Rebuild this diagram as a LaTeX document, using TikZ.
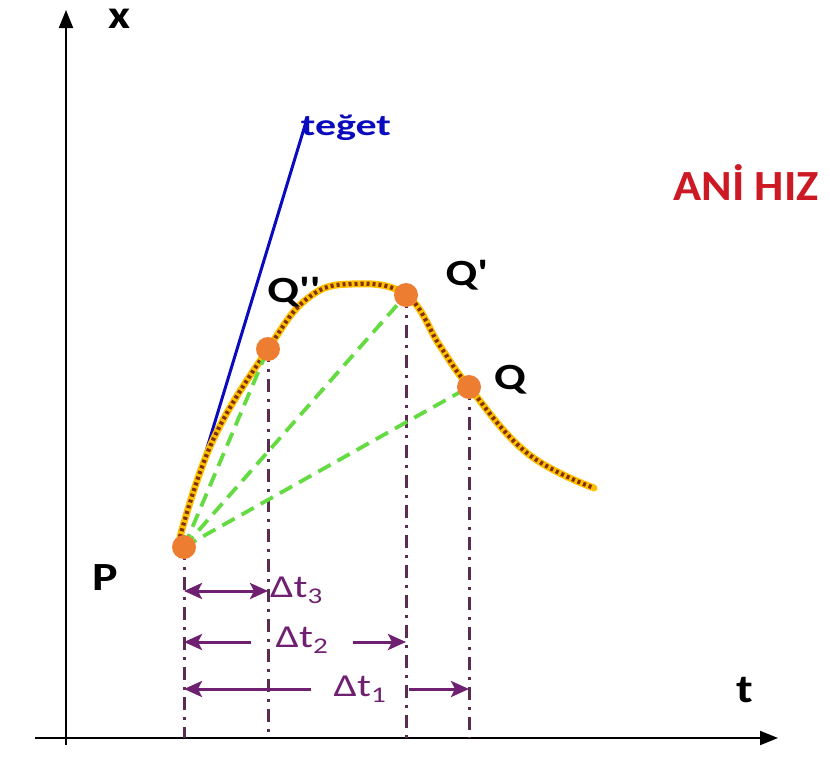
\documentclass[tikz,border=0pt]{standalone}
\usepackage{fontspec}
\setmainfont{Carlito}
\usetikzlibrary{arrows.meta}
\definecolor{dotorange}{RGB}{237,125,49}
\definecolor{curveyellow}{RGB}{255,192,0}
\definecolor{curvebrown}{RGB}{130,50,10}
\definecolor{chordgreen}{RGB}{100,220,65}
\definecolor{spanpurple}{RGB}{112,32,112}
\definecolor{dropgray}{RGB}{90,45,80}
\definecolor{tangentblue}{RGB}{10,10,190}
\definecolor{titlered}{RGB}{205,25,35}
\newcommand{\widetext}[2]{\scalebox{#1}[1]{#2}}

\begin{document}
\begin{tikzpicture}[x=1pt, y=-1pt,
    dot/.style={circle, fill=dotorange, inner sep=0pt, minimum size=24pt},
    lbl/.style={font=\fontsize{37}{37}\selectfont\bfseries},
    axlbl/.style={font=\fontsize{40}{40}\selectfont\bfseries},
    span/.style={text=spanpurple, font=\fontsize{32}{32}\selectfont},
    axis/.style={line width=2pt, -{Triangle[length=18pt, width=14pt]}},
    chord/.style={color=chordgreen, line width=3.8pt, dash pattern=on 14pt off 8pt},
    drop/.style={color=dropgray, line width=3pt, dash pattern=on 13pt off 7pt on 3pt off 7pt},
    gap/.style={color=spanpurple, line width=3pt, -{Stealth[length=18pt, width=16pt, inset=4pt]}},
    gapboth/.style={gap, {Stealth[length=18pt, width=16pt, inset=4pt]}-{Stealth[length=18pt, width=16pt, inset=4pt]}}
]
\useasboundingbox (0,0) rectangle (830,774);

% axes
\coordinate (ys) at (66,745);
\coordinate (ye) at (66,10);
\coordinate (xs) at (35,738);
\coordinate (xe) at (778,738);
\draw[axis] (ys) -- (ye);
\draw[axis] (xs) -- (xe);
\node[axlbl] (xlab) at (120,19) {\widetext{1.2}{x}};
\node[axlbl] (tlab) at (745,690) {\widetext{1.2}{t}};

% points on the curve
\coordinate (P) at (184,547);
\coordinate (Qb) at (268,349);
\coordinate (Qa) at (406,295);
\coordinate (Q) at (469,387);

% drop lines
\draw[drop] (P) -- (P |- xs);
\draw[drop] (Qb) -- (Qb |- xs);
\draw[drop] (Qa) -- (Qa |- xs);
\draw[drop] (Q) -- (Q |- xs);

% tangent
\coordinate (tgA) at (180,537);
\coordinate (tgB) at (306,122);
\draw[tangentblue, line width=3pt] (tgA) -- (tgB);
\node[text=tangentblue, font=\fontsize{30}{30}\selectfont\bfseries] (teget) at (346,128) {\widetext{1.4}{teğet}};

% the x(t) curve
\draw[curveyellow, line width=7pt, line cap=round] plot[smooth, tension=0.7] coordinates
  {(180,537) (213,440) (268,349) (308,298) (352,284) (406,295) (440,346) (469,387)
   (527,453) (594,488)};
\draw[curvebrown, line width=4.2pt, dash pattern=on 3pt off 3pt] plot[smooth, tension=0.7] coordinates
  {(180,537) (213,440) (268,349) (308,298) (352,284) (406,295) (440,346) (469,387)
   (527,453) (594,488)};

% chords
\draw[chord] (P) -- (Qb);
\draw[chord] (P) -- (Qa);
\draw[chord] (P) -- (Q);

% dots
\node[dot] (dP) at (P) {};
\node[dot] (dQb) at (Qb) {};
\node[dot] (dQa) at (Qa) {};
\node[dot] (dQ) at (Q) {};

% labels
\node[axlbl] (Plab) at (105,578) {\widetext{1.2}{P}};
\node[lbl] (Qblab) at (294,292) {\widetext{1.25}{Q\textquotesingle\textquotesingle}};
\node[lbl] (Qalab) at (467,275) {\widetext{1.25}{Q\textquotesingle}};
\node[lbl] (Qlab) at (510,380) {\widetext{1.25}{Q}};
\node[text=titlered, font=\fontsize{43}{43}\selectfont\bfseries] (title) at (746,183) {\widetext{1.08}{ANİ HIZ}};

% time spans
\node[span, anchor=west, inner sep=0pt] (d3) at (270,590) {\widetext{1.3}{Δt\textsubscript{3}}};
\draw[gapboth] (P |- 0,591) -- (Qb |- 0,591);
\node[span, inner xsep=24pt] (d2) at (302,640) {\widetext{1.3}{Δt\textsubscript{2}}};
\draw[gap] (d2.west |- 0,642) -- (P |- 0,642);
\draw[gap] (d2.east |- 0,642) -- (Qa |- 0,642);
\node[span, inner xsep=22pt] (d1) at (360,689) {\widetext{1.3}{Δt\textsubscript{1}}};
\draw[gap] (d1.west |- 0,689) -- (P |- 0,689);
\draw[gap] (d1.east |- 0,689) -- (Q |- 0,689);
\end{tikzpicture}
\end{document}
